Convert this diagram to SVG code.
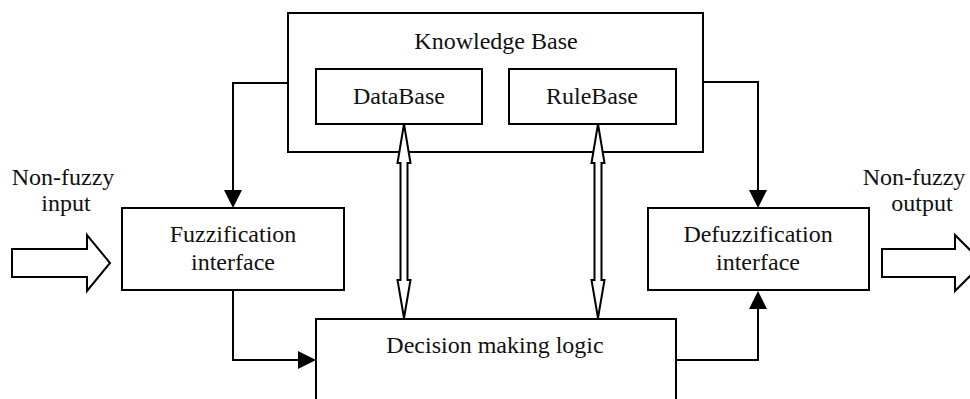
<svg xmlns="http://www.w3.org/2000/svg" width="970" height="399" viewBox="0 0 970 399">
<style>
.box{fill:#fff;stroke:#000;stroke-width:2}
.ln{fill:none;stroke:#000;stroke-width:2}
.hol{fill:#fff;stroke:#000;stroke-width:2;stroke-linejoin:miter}
.ah{fill:#000;stroke:none}
text{font-family:"Liberation Serif","Times New Roman",serif;font-size:24px;fill:#111;text-anchor:middle}
</style>
<rect width="970" height="399" fill="#fff"/>
<g id="knowledge-base">
<rect class="box" x="288" y="13" width="415" height="139"/>
<text x="496" y="49">Knowledge Base</text>
</g>
<g id="database">
<rect class="box" x="316" y="69" width="166" height="55"/>
<text x="399" y="104">DataBase</text>
</g>
<g id="rulebase">
<rect class="box" x="509" y="69" width="167" height="55"/>
<text x="592" y="104">RuleBase</text>
</g>
<g id="fuzzification">
<rect class="box" x="122" y="208" width="222" height="82"/>
<text x="233" y="242">Fuzzification</text>
<text x="233" y="270">interface</text>
</g>
<g id="defuzzification">
<rect class="box" x="648" y="208" width="221" height="82"/>
<text x="758" y="242">Defuzzification</text>
<text x="758" y="270">interface</text>
</g>
<g id="decision">
<rect class="box" x="316" y="319" width="360" height="100"/>
<text x="495" y="353">Decision making logic</text>
</g>
<g id="input">
<text x="63" y="185">Non-fuzzy</text>
<text x="66" y="211">input</text>
<polygon class="hol" points="12,249 87,249 87,235 110,263 87,291 87,277 12,277"/>
</g>
<g id="output">
<text x="914" y="185">Non-fuzzy</text>
<text x="922" y="211">output</text>
<polygon class="hol" points="882,249 955,249 955,235 983,263 955,291 955,277 882,277"/>
</g>
<g id="connectors">
<path class="ln" d="M288,83 H233 V192"/>
<polygon class="ah" points="224,190 242,190 233,208"/>
<path class="ln" d="M703,82 H758 V192"/>
<polygon class="ah" points="749,190 767,190 758,208"/>
<path class="ln" d="M233,290 V360 H300"/>
<polygon class="ah" points="298,351 298,369 316,360"/>
<path class="ln" d="M676,360 H758 V307"/>
<polygon class="ah" points="749,309 767,309 758,291"/>
<polygon class="hol" points="404,124 410.5,163 407.5,163 407.5,280 410.5,280 404,318 397.5,280 400.5,280 400.5,163 397.5,163"/>
<polygon class="hol" points="598,124 604.5,163 601.5,163 601.5,280 604.5,280 598,318 591.5,280 594.5,280 594.5,163 591.5,163"/>
</g>
</svg>
